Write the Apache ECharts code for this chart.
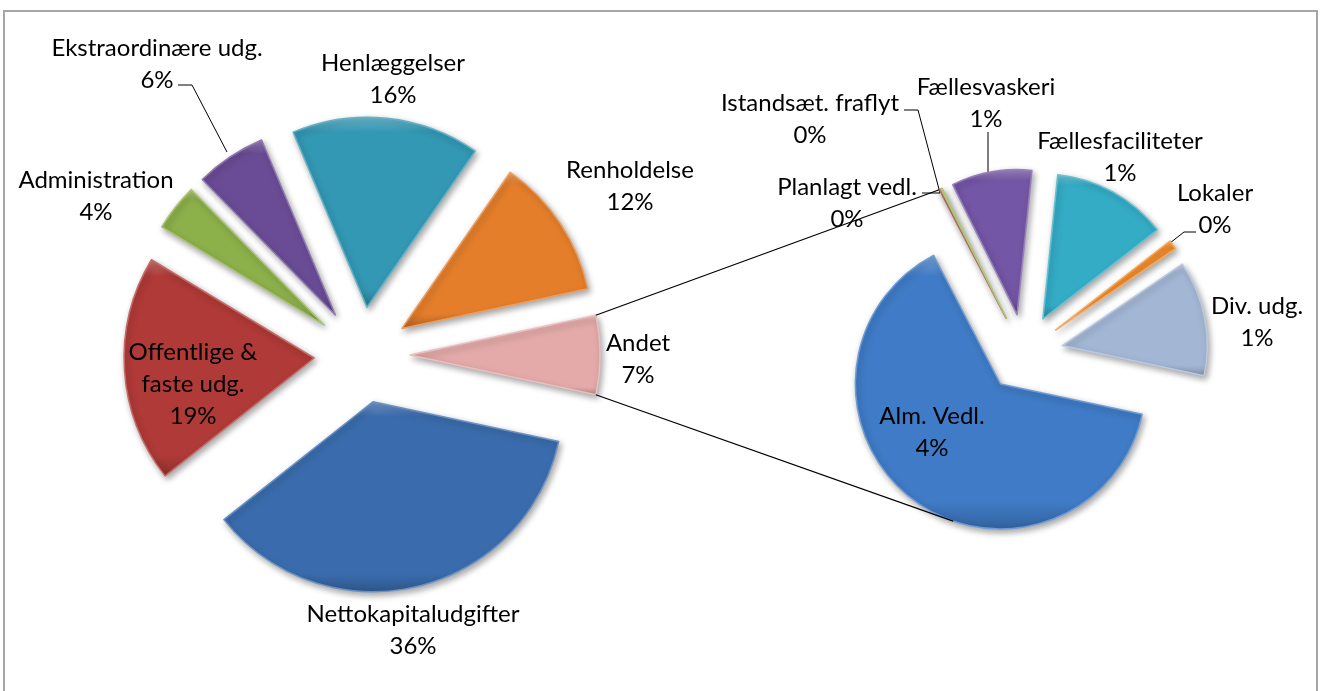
<!DOCTYPE html>
<html>
<head>
<meta charset="utf-8">
<script src="https://cdn.jsdelivr.net/npm/echarts@6/dist/echarts.min.js"></script>
<style>
html,body{margin:0;padding:0;background:#fff;}
#chart{width:1321px;height:691px;}
</style>
</head>
<body>
<div id="chart"></div>
<script>
// ---- data (percent of total) ----
const mainNames = ['Andet', 'Nettokapitaludgifter', 'Offentlige &\nfaste udg.', 'Administration', 'Ekstraordinære udg.', 'Henlæggelser', 'Renholdelse'];
const mainValues = [6.7, 36.0, 19.3, 4.0, 6.0, 16.0, 12.0];
const subNames = ['Alm. Vedl.', 'Planlagt vedl.', 'Istandsæt. fraflyt', 'Fællesvaskeri', 'Fællesfaciliteter', 'Lokaler', 'Div. udg.'];
const subValues = [4.29, 0.01, 0.01, 0.60, 0.86, 0.07, 0.86];

// ---- styles ----
const mainColors = ['#E3AAA9', '#3A6CAD', '#B03A37', '#8CB04A', '#6A4C96', '#3298B4', '#E47E2B'];
const subColors = ['#3F7BC6', '#B8403D', '#8FB54B', '#7456A6', '#34ACC6', '#F28C2C', '#A3B7D5'];

// ---- layout ----
const C1 = [362, 355], R1 = 190, OFF1 = 48;
const C2 = [1024, 353], R2 = 145, OFF2 = 39;
const mainLabelPos = [[638, 359], [413, 630], [193, 384], [96, 196], [157, 64], [393, 79], [630, 186]];
const mainLeaders = [null, null, null, null, [[227, 152], [192, 85], [178, 85]], null, null];
const subLabelPos = [[932, 432], [847, 203], [810, 119], [986, 103], [1120, 157], [1215, 209], [1257, 322]];
const subLeaders = [null, [[940, 193], [931, 193], [922, 193]], [[940, 193], [918, 110], [904, 110]],
  [[988, 177], [988, 155], [988, 132]], null, [[1170, 243], [1184, 232], [1196, 232]], null];

function hexToRgb(h) { h = h.replace('#', ''); return [parseInt(h.substr(0, 2), 16), parseInt(h.substr(2, 2), 16), parseInt(h.substr(4, 2), 16)]; }
function mix(h, t, target) { const c = hexToRgb(h); return 'rgb(' + c.map(v => Math.round(v + (target - v) * t)).join(',') + ')'; }

function styleFor(c) {
  return {
    color: new echarts.graphic.LinearGradient(0, 0, 0, 1, [
      { offset: 0, color: mix(c, 0.3, 255) },
      { offset: 0.08, color: c },
      { offset: 0.9, color: c },
      { offset: 1, color: mix(c, 0.2, 0) }
    ]),
    borderColor: mix(c, 0.25, 255),
    borderWidth: 1.5,
    shadowBlur: 6,
    shadowColor: 'rgba(0,0,0,0.35)',
    shadowOffsetX: 2,
    shadowOffsetY: 3
  };
}

const rad = d => d * Math.PI / 180;
const pt = (c, r, a) => [c[0] + r * Math.cos(rad(a)), c[1] + r * Math.sin(rad(a))];

const labelStyle = {
  show: true,
  position: 'outside',
  color: '#000',
  fontFamily: 'Lato',
  fontSize: 24,
  lineHeight: 32,
  formatter: p => p.name + '\n' + Math.round(p.value) + '%'
};

// one pie series per slice, each shifted outward along its own mid-angle (explosion)
function explodedSeries(names, values, colors, center, radius, offset, startScreen, labelPos, leaders) {
  const total = values.reduce((a, b) => a + b, 0);
  const out = [];
  let acc = startScreen;
  values.forEach((v, i) => {
    const span = 360 * v / total;
    const mid = acc + span / 2;
    acc += span;
    out.push({
      type: 'pie',
      center: pt(center, offset, mid),
      radius: radius,
      startAngle: -startScreen,
      clockwise: true,
      avoidLabelOverlap: false,
      emphasis: { disabled: true },
      silent: true,
      labelLine: { show: true, lineStyle: { color: '#000', width: 1 } },
      labelLayout: p => {
        if (p.dataIndex !== i) return {};
        const r = { x: labelPos[i][0], y: labelPos[i][1], align: 'center', verticalAlign: 'middle' };
        if (leaders[i]) r.labelLinePoints = leaders[i];
        return r;
      },
      data: names.map((n, j) => j === i ? {
        name: n, value: values[j],
        itemStyle: styleFor(colors[j]),
        label: labelStyle,
        labelLine: { show: !!leaders[j] }
      } : {
        name: n, value: values[j],
        itemStyle: { color: 'rgba(0,0,0,0)', borderWidth: 0, shadowBlur: 0 },
        label: { show: false }, labelLine: { show: false }
      })
    });
  });
  return out;
}

const mainTotal = mainValues.reduce((a, b) => a + b, 0);
const half = 180 * mainValues[0] / mainTotal; // half-angle of "Andet"
const subTotal = subValues.reduce((a, b) => a + b, 0);

// series lines from the "Andet" slice to the second pie
const andetV = pt(C1, OFF1, 0);
const andetTop = pt(andetV, R1, -half);
const andetBot = pt(andetV, R1, half);
const almEnd = half + 360 * subValues[0] / subTotal;
const upperEnd = pt(pt(C2, OFF2, almEnd), R2, almEnd);
const almMid = half + 180 * subValues[0] / subTotal;
const lowerEnd = pt(pt(C2, OFF2, almMid), R2, 109);

const chart = echarts.init(document.getElementById('chart'));
chart.setOption({
  animation: false,
  backgroundColor: '#fff',
  graphic: [
    { type: 'rect', shape: { x: 4, y: 11, width: 1313, height: 700 }, style: { fill: 'none', stroke: '#A6A6A6', lineWidth: 2 } },
    { type: 'line', z: 10, shape: { x1: andetTop[0], y1: andetTop[1], x2: upperEnd[0], y2: upperEnd[1] }, style: { stroke: '#000', lineWidth: 1.2 } },
    { type: 'line', z: 10, shape: { x1: andetBot[0], y1: andetBot[1], x2: lowerEnd[0], y2: lowerEnd[1] }, style: { stroke: '#000', lineWidth: 1.2 } }
  ],
  series: [].concat(
    explodedSeries(mainNames, mainValues, mainColors, C1, R1, OFF1, -half, mainLabelPos, mainLeaders),
    explodedSeries(subNames, subValues, subColors, C2, R2, OFF2, half, subLabelPos, subLeaders)
  )
});
</script>
</body>
</html>
